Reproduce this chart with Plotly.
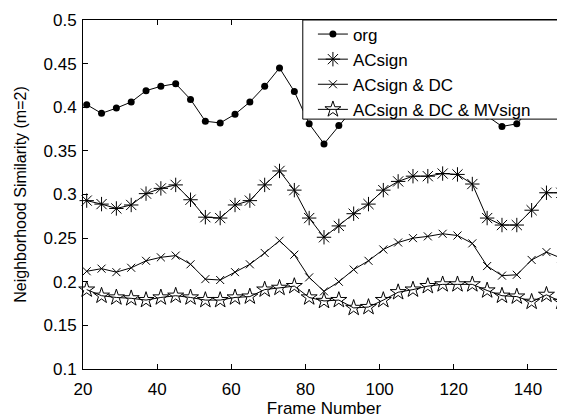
import plotly.graph_objects as go

frames = [21 + 4 * i for i in range(33)]

org = [0.403, 0.393, 0.399, 0.406, 0.419, 0.424, 0.427, 0.409, 0.384, 0.382,
       0.392, 0.406, 0.424, 0.445, 0.418, 0.381, 0.358, 0.379, 0.399, 0.410,
       0.420, 0.430, 0.438, 0.442, 0.443, 0.440, 0.425, 0.390, 0.378, 0.381,
       0.400, 0.410, 0.405]

acsign = [0.293, 0.289, 0.284, 0.288, 0.301, 0.307, 0.311, 0.294, 0.274, 0.273,
          0.288, 0.293, 0.311, 0.327, 0.305, 0.273, 0.251, 0.264, 0.278, 0.289,
          0.305, 0.315, 0.321, 0.321, 0.324, 0.323, 0.312, 0.273, 0.265, 0.265,
          0.282, 0.302, 0.302]

acsign_dc = [0.212, 0.215, 0.211, 0.216, 0.224, 0.228, 0.230, 0.220, 0.203, 0.202,
             0.211, 0.220, 0.233, 0.247, 0.231, 0.205, 0.189, 0.200, 0.214, 0.224,
             0.237, 0.245, 0.250, 0.252, 0.255, 0.253, 0.244, 0.218, 0.207, 0.208,
             0.225, 0.234, 0.227]

acsign_dc_mv = [0.191, 0.184, 0.182, 0.181, 0.179, 0.182, 0.184, 0.182, 0.179, 0.179,
                0.182, 0.183, 0.191, 0.193, 0.195, 0.182, 0.178, 0.179, 0.170, 0.171,
                0.179, 0.188, 0.191, 0.195, 0.197, 0.197, 0.197, 0.190, 0.184, 0.183,
                0.177, 0.185, 0.177]

series_names = ["org", "ACsign", "ACsign & DC", "ACsign & DC & MVsign"]

x_tickvals = [20, 40, 60, 80, 100, 120, 140]
y_tickvals = [0.1, 0.15, 0.2, 0.25, 0.3, 0.35, 0.4, 0.45, 0.5]
y_ticktext = ["0.1", "0.15", "0.2", "0.25", "0.3", "0.35", "0.4", "0.45", "0.5"]

FONT = "Liberation Sans, Arial, sans-serif"

styles = [
    dict(symbol="circle", size=7, color="black", line=dict(width=0)),
    dict(symbol="asterisk-open", size=12, color="black", line=dict(width=1, color="black")),
    dict(symbol="x-thin-open", size=8, color="black", line=dict(width=1, color="black")),
    dict(symbol="star-open", size=12, color="black", line=dict(width=1, color="black")),
]

fig = go.Figure()
for name, vals, mk in zip(series_names, [org, acsign, acsign_dc, acsign_dc_mv], styles):
    fig.add_trace(go.Scatter(
        x=frames, y=vals, name=name, mode="lines+markers",
        line=dict(color="black", width=1), marker=mk, cliponaxis=False))

fig.add_shape(type="rect", xref="paper", yref="paper", x0=0.456, x1=1.02, y0=0.716, y1=1.0,
              fillcolor="white", line=dict(color="black", width=1), layer="above")

fig.update_layout(
    width=557, height=410,
    margin=dict(l=75, r=0, t=12, b=49),
    paper_bgcolor="white", plot_bgcolor="white",
    font=dict(family=FONT, size=16, color="black"),
    showlegend=True,
    legend=dict(x=0.477, y=1.01, xanchor="left", yanchor="top",
                bgcolor="rgba(0,0,0,0)", borderwidth=0,
                font=dict(family=FONT, size=17, color="black"),
                tracegroupgap=0),
    xaxis=dict(range=[20, 150], tickvals=x_tickvals, ticks="inside", ticklen=5,
               tickcolor="black", showline=True, linecolor="black", linewidth=1,
               mirror="ticks", showgrid=False, zeroline=False,
               ticklabelstandoff=5,
               title=dict(text="Frame Number", font=dict(size=17), standoff=3),
               tickfont=dict(size=17)),
    yaxis=dict(range=[0.1, 0.5], tickvals=y_tickvals, ticktext=y_ticktext,
               ticks="inside", ticklen=5, tickcolor="black", showline=True,
               linecolor="black", linewidth=1, mirror="ticks", showgrid=False,
               zeroline=False, ticklabelstandoff=2,
               title=dict(text="Neighborhood Similarity (m=2)", font=dict(size=16), standoff=12),
               tickfont=dict(size=17)),
)

fig.write_html("out.html")
